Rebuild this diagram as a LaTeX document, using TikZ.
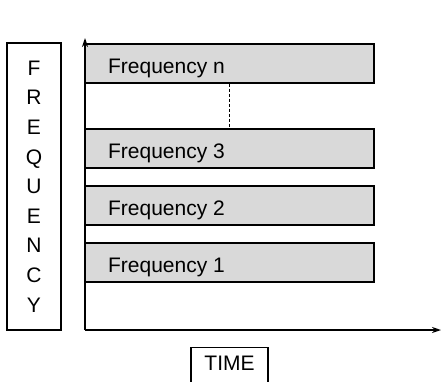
\documentclass[tikz,border=0pt]{standalone}
\usepackage{fontspec}
\setmainfont{Liberation Sans}
\usetikzlibrary{arrows.meta,calc}
\begin{document}
\begin{tikzpicture}[x=1pt,y=1pt,
  txt/.style={font=\fontsize{21}{29.6}\selectfont},
  bar/.style={draw=black, line width=1.2pt, fill=black!15, minimum width=289pt, minimum height=39pt, inner sep=0pt},
  lbl/.style={txt, anchor=base west, inner sep=0pt},
  axis/.style={line width=1.3pt, -{Stealth[length=9pt,width=6pt]}},
  labelbox/.style={draw=black, line width=1.2pt, txt, inner sep=0pt}]
\useasboundingbox (0,0) rectangle (441,381);
% axes
\coordinate (O) at (85,51);
\coordinate (ytip) at (85,343);
\coordinate (xtip) at (441,51);
% bars
\node[bar] (fn) at (229.5,317.5) {};
\node[bar] (f3) at (229.5,232.5) {};
\node[bar] (f2) at (229.5,175.5) {};
\node[bar] (f1) at (229.5,118.5) {};
\node[lbl] (fnl) at ($(fn.south west)+(23.5,10.3)$) {Frequency n};
\node[lbl] (f3l) at ($(f3.south west)+(23.5,10.3)$) {Frequency 3};
\node[lbl] (f2l) at ($(f2.south west)+(23.5,10.3)$) {Frequency 2};
\node[lbl] (f1l) at ($(f1.south west)+(23.5,10.3)$) {Frequency 1};
\draw[line width=0.9pt, dash pattern=on 3pt off 2pt] (fn.south) -- (f3.north);
\draw[axis] (O) -- (ytip);
\draw[axis] (O) -- (xtip);
% frequency label
\node[labelbox, minimum width=54pt, minimum height=287pt, align=center] (freq) at (34,194.5)
  {F\\R\\E\\Q\\U\\E\\N\\C\\Y};
% time label
\node[labelbox, minimum width=77pt, minimum height=44pt, text height=15pt, text depth=13pt, anchor=north] (time) at (229.5,34) {TIME};
\end{tikzpicture}
\end{document}
